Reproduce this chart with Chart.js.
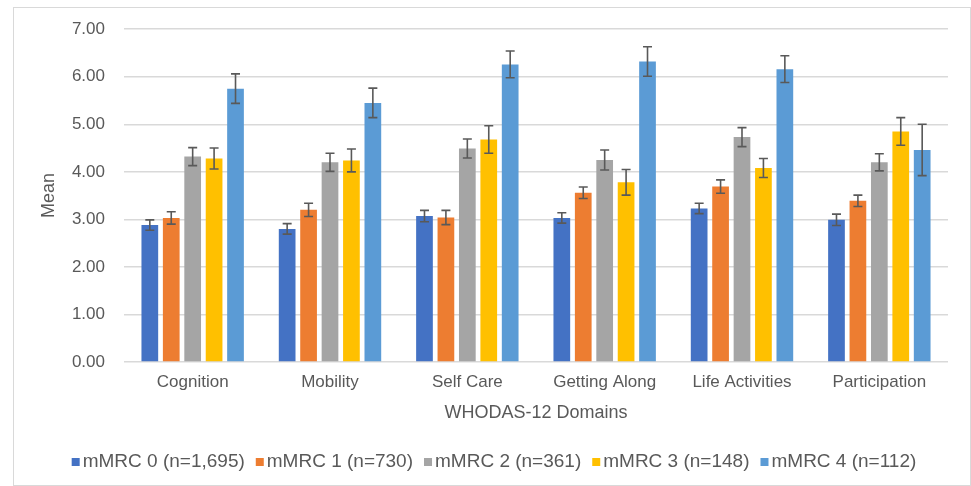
<!DOCTYPE html>
<html lang="en">
<head>
    <meta charset="UTF-8">
    <title>WHODAS-12 Domains by mMRC</title>
    <script src="https://cdn.jsdelivr.net/npm/chart.js"></script>
    <style>
        body { margin: 0; background: #fff; }
        .moldura { position: absolute; left: 13px; top: 7px; width: 956px; height: 477px; border: 1px solid #d9d9d9; }
        .grafico { position: absolute; left: 0; top: 0; width: 971px; height: 486px; }
    </style>
</head>
<body>
<div class="moldura"></div>
<div class="grafico"><canvas id="myChart"></canvas></div>

<script>
    // dados
    const dominios = ['Cognition', 'Mobility', 'Self Care', 'Getting Along', 'Life Activities', 'Participation'];
    const grupos = ['mMRC 0 (n=1,695)', 'mMRC 1 (n=730)', 'mMRC 2 (n=361)', 'mMRC 3 (n=148)', 'mMRC 4 (n=112)'];
    const cores = ['#4472C4', '#ED7D31', '#A5A5A5', '#FFC000', '#5B9BD5'];

    const mmrc0 = [2.88, 2.80, 3.07, 3.03, 3.23, 2.99];
    const mmrc1 = [3.03, 3.20, 3.04, 3.56, 3.69, 3.39];
    const mmrc2 = [4.32, 4.20, 4.49, 4.25, 4.73, 4.20];
    const mmrc3 = [4.28, 4.24, 4.68, 3.78, 4.08, 4.85];
    const mmrc4 = [5.75, 5.45, 6.26, 6.32, 6.16, 4.46];

    const erro0 = [0.11, 0.11, 0.12, 0.11, 0.11, 0.12];
    const erro1 = [0.13, 0.14, 0.15, 0.12, 0.14, 0.12];
    const erro2 = [0.19, 0.19, 0.20, 0.21, 0.20, 0.18];
    const erro3 = [0.22, 0.24, 0.29, 0.27, 0.20, 0.29];
    const erro4 = [0.31, 0.31, 0.28, 0.31, 0.28, 0.54];

    const medias = [mmrc0, mmrc1, mmrc2, mmrc3, mmrc4];
    const erros = [erro0, erro1, erro2, erro3, erro4];

    const corTexto = '#595959';
    const fonte = "'Liberation Sans', Arial, sans-serif";

    // barras de erro desenhadas com a escala y do proprio grafico
    const barrasErro = {
        id: 'barrasErro',
        afterDatasetsDraw(chart) {
            const ctx = chart.ctx;
            const y = chart.scales.y;
            ctx.save();
            ctx.strokeStyle = '#595959';
            ctx.lineWidth = 1.6;
            chart.data.datasets.forEach((ds, i) => {
                const meta = chart.getDatasetMeta(i);
                meta.data.forEach((barra, j) => {
                    const topo = y.getPixelForValue(ds.data[j] + ds.erro[j]);
                    const base = y.getPixelForValue(ds.data[j] - ds.erro[j]);
                    const x = barra.x;
                    ctx.beginPath();
                    ctx.moveTo(x, topo); ctx.lineTo(x, base);
                    ctx.moveTo(x - 4.5, topo); ctx.lineTo(x + 4.5, topo);
                    ctx.moveTo(x - 4.5, base); ctx.lineTo(x + 4.5, base);
                    ctx.stroke();
                });
            });
            ctx.restore();
        }
    };

    // legenda no estilo do Excel: quadrado colado ao texto
    const legenda = {
        id: 'legenda',
        afterDraw(chart) {
            const ctx = chart.ctx;
            const caixa = 8, espacoTexto = 3, espacoItem = 11;
            ctx.save();
            ctx.font = '19px ' + fonte;
            ctx.textBaseline = 'middle';
            const itens = chart.data.datasets.map(ds => ({
                texto: ds.label,
                cor: ds.backgroundColor,
                largura: ctx.measureText(ds.label).width
            }));
            let total = espacoItem * (itens.length - 1);
            itens.forEach(it => { total += caixa + espacoTexto + it.largura; });
            let x = 494 - total / 2;
            const y = 462;
            itens.forEach(it => {
                ctx.fillStyle = it.cor;
                ctx.fillRect(x, y - caixa / 2, caixa, caixa);
                x += caixa + espacoTexto;
                ctx.fillStyle = corTexto;
                ctx.fillText(it.texto, x, y);
                x += it.largura + espacoItem;
            });
            ctx.restore();
        }
    };

    const config = {
        type: 'bar',
        data: {
            labels: dominios,
            datasets: grupos.map((g, i) => ({
                label: g,
                data: medias[i],
                erro: erros[i],
                backgroundColor: cores[i],
                borderWidth: 0,
                categoryPercentage: 0.78,
                barPercentage: 0.78
            }))
        },
        options: {
            responsive: true,
            maintainAspectRatio: false,
            animation: false,
            layout: { padding: { top: 27, right: 23, bottom: 61, left: 0 } },
            plugins: {
                tooltip: { enabled: false },
                legend: { display: false }
            },
            scales: {
                x: {
                    grid: { display: false, drawTicks: false },
                    border: { display: false },
                    ticks: { color: corTexto, padding: 10, font: { family: fonte, size: 17 } },
                    title: {
                        display: true,
                        text: 'WHODAS-12 Domains',
                        color: corTexto,
                        padding: { top: 4, bottom: 1 },
                        font: { family: fonte, size: 18 }
                    },
                    afterFit: scale => { scale.height = 63; }
                },
                y: {
                    min: 0,
                    max: 7,
                    grid: { color: '#d9d9d9', lineWidth: 1.5, drawTicks: false },
                    border: { display: false },
                    ticks: {
                        stepSize: 1,
                        padding: 19,
                        color: corTexto,
                        font: { family: fonte, size: 17 },
                        callback: v => v.toFixed(2)
                    },
                    title: {
                        display: true,
                        text: 'Mean',
                        color: corTexto,
                        padding: { top: 38, bottom: 0 },
                        font: { family: fonte, size: 18 }
                    },
                    afterFit: scale => { scale.width = 124; }
                }
            }
        },
        plugins: [barrasErro, legenda]
    };

    new Chart(document.getElementById('myChart'), config);
</script>
</body>
</html>
